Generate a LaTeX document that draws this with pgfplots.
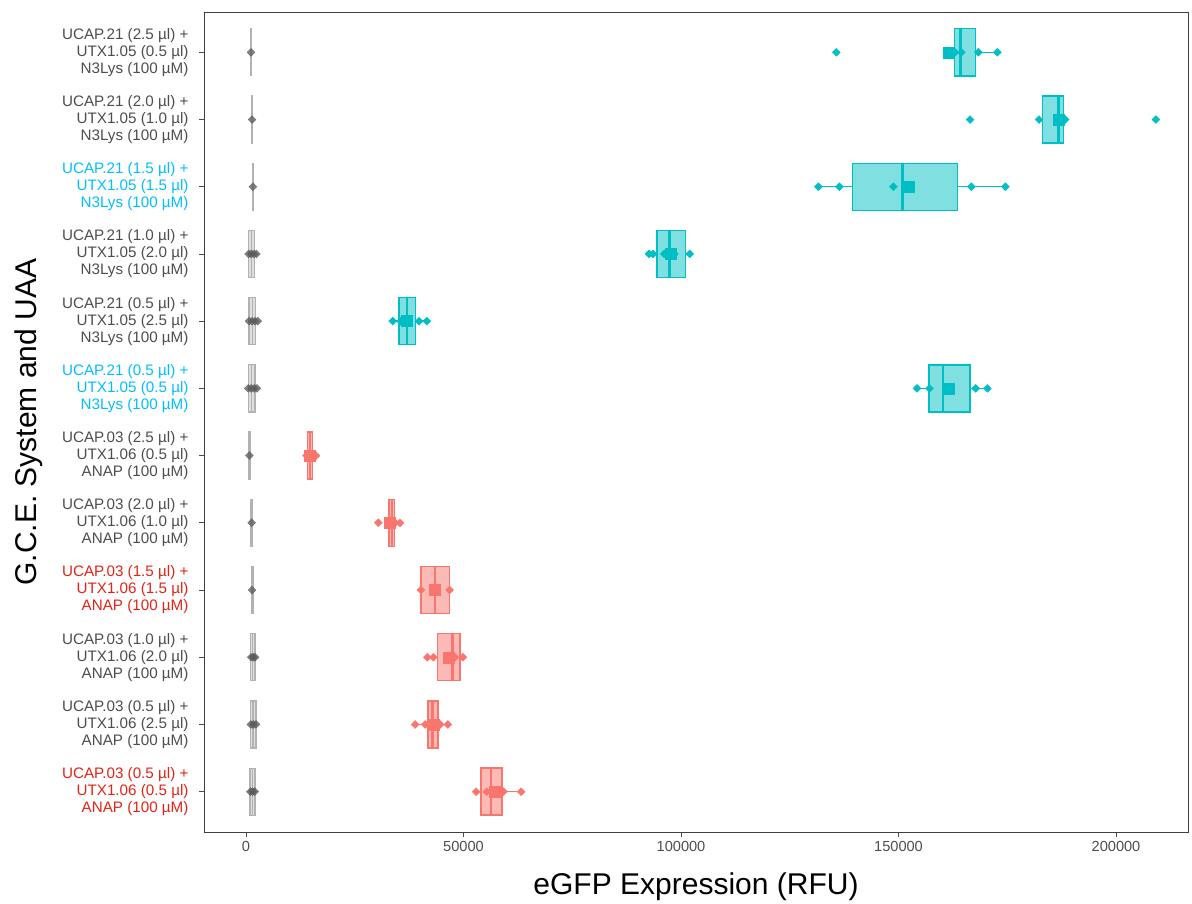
\documentclass[border=0pt]{standalone}
\usepackage{pgfplots}
\pgfplotsset{compat=1.18}
\usepgfplotslibrary{statistics}
\usepackage{fontspec}
\setmainfont{Liberation Sans}
\definecolor{tealc}{HTML}{00BFC4}
\definecolor{salm}{HTML}{F8766D}
\definecolor{labgrey}{HTML}{4D4D4D}
\definecolor{hlblue}{HTML}{00BFFF}
\definecolor{hlred}{HTML}{E32314}
\definecolor{gpt}{HTML}{5A5A5A}
\newcommand{\Lb}[4]{\textcolor{#1}{#2}\\\textcolor{#1}{#3}\\\textcolor{#1}{#4}}
% #1 colour, #2 position, #3 lower whisker, #4 Q1, #5 median, #6 Q3, #7 upper whisker
\newcommand{\bx}[7]{\addplot[boxplot prepared={draw position=#2, lower whisker=#3, lower quartile=#4, median=#5, upper quartile=#6, upper whisker=#7, box extend=0.7, whisker extend=0}, draw=#1, fill=#1!50, line width=1.4pt, solid, mark=none, boxplot/every median/.style={line width=2.4pt}] coordinates {};}
\newcommand{\gx}[6]{\addplot[boxplot prepared={draw position=#1, lower whisker=#2, lower quartile=#3, median=#4, upper quartile=#5, upper whisker=#6, box extend=0.7, whisker extend=0}, draw=gray!60, fill=gray!25, line width=1.2pt, solid, mark=none] coordinates {};}
\begin{document}
\begin{tikzpicture}
\useasboundingbox (0pt,0pt) rectangle (1192pt,904pt);
\begin{axis}[at={(204pt,72pt)}, anchor=south west, scale only axis, width=984pt, height=820pt,
 xmin=-9660, xmax=216550, ymin=0.4, ymax=12.6,
 axis line style={draw=black!75, line width=0.8pt},
 xtick={0,50000,100000,150000,200000}, xticklabels={0,50000,100000,150000,200000}, scaled x ticks=false,
 ytick={1,...,12},
 yticklabels={
 {\Lb{hlred}{UCAP.03 (0.5 µl) +}{UTX1.06 (0.5 µl)}{ANAP (100 µM)}},
 {\Lb{labgrey}{UCAP.03 (0.5 µl) +}{UTX1.06 (2.5 µl)}{ANAP (100 µM)}},
 {\Lb{labgrey}{UCAP.03 (1.0 µl) +}{UTX1.06 (2.0 µl)}{ANAP (100 µM)}},
 {\Lb{hlred}{UCAP.03 (1.5 µl) +}{UTX1.06 (1.5 µl)}{ANAP (100 µM)}},
 {\Lb{labgrey}{UCAP.03 (2.0 µl) +}{UTX1.06 (1.0 µl)}{ANAP (100 µM)}},
 {\Lb{labgrey}{UCAP.03 (2.5 µl) +}{UTX1.06 (0.5 µl)}{ANAP (100 µM)}},
 {\Lb{hlblue}{UCAP.21 (0.5 µl) +}{UTX1.05 (0.5 µl)}{N3Lys (100 µM)}},
 {\Lb{labgrey}{UCAP.21 (0.5 µl) +}{UTX1.05 (2.5 µl)}{N3Lys (100 µM)}},
 {\Lb{labgrey}{UCAP.21 (1.0 µl) +}{UTX1.05 (2.0 µl)}{N3Lys (100 µM)}},
 {\Lb{hlblue}{UCAP.21 (1.5 µl) +}{UTX1.05 (1.5 µl)}{N3Lys (100 µM)}},
 {\Lb{labgrey}{UCAP.21 (2.0 µl) +}{UTX1.05 (1.0 µl)}{N3Lys (100 µM)}},
 {\Lb{labgrey}{UCAP.21 (2.5 µl) +}{UTX1.05 (0.5 µl)}{N3Lys (100 µM)}}},
 tick align=outside, major tick length=5pt, xtick pos=left, ytick pos=left,
 tick style={draw=black!70, line width=0.8pt},
 xticklabel style={font=\fontsize{14.6}{17}\selectfont, text=labgrey, yshift=-1pt},
 yticklabel style={font=\fontsize{15.2}{17}\selectfont, text=labgrey, align=right, xshift=-7pt},
 xlabel={eGFP Expression (RFU)}, ylabel={G.C.E. System and UAA},
 xlabel style={font=\fontsize{30}{34}\selectfont, at={(axis description cs:0.5,-0.067)}, anchor=center},
 ylabel style={font=\fontsize{30}{34}\selectfont, at={(axis description cs:-0.178,0.5)}, anchor=center},
 clip=false]
% grey control boxes
\gx{12}{950}{950}{1150}{1350}{1350}
\gx{11}{1200}{1200}{1380}{1550}{1550}
\gx{10}{1400}{1400}{1600}{1800}{1800}
\gx{9}{530}{530}{1220}{1900}{1900}
\gx{8}{690}{690}{1450}{2230}{2230}
\gx{7}{530}{530}{1300}{2070}{2070}
\gx{6}{600}{600}{770}{950}{950}
\gx{5}{1100}{1100}{1300}{1500}{1500}
\gx{4}{1200}{1200}{1380}{1600}{1600}
\gx{3}{1080}{1080}{1540}{2070}{2070}
\gx{2}{1080}{1080}{1600}{2300}{2300}
\gx{1}{920}{920}{1500}{2070}{2070}
% teal boxes
\bx{tealc}{12}{162840}{162840}{164220}{167670}{172730}
\bx{tealc}{11}{182300}{183150}{186800}{187960}{188300}
\bx{tealc}{10}{131560}{139380}{150880}{163530}{174570}
\bx{tealc}{9}{92640}{94440}{97330}{101060}{102000}
\bx{tealc}{8}{33740}{35190}{37000}{38940}{41560}
\bx{tealc}{7}{154240}{156980}{160240}{166470}{170430}
% salmon boxes
\bx{salm}{6}{13900}{14100}{14650}{15250}{16100}
\bx{salm}{5}{32900}{32900}{33500}{34200}{35400}
\bx{salm}{4}{40200}{40200}{43470}{46800}{46800}
\bx{salm}{3}{41700}{44000}{47450}{49220}{49840}
\bx{salm}{2}{38870}{41790}{42860}{44090}{46390}
\bx{salm}{1}{52900}{53980}{56280}{58810}{63250}
% grey points
\addplot[only marks, mark=square*, mark options={rotate=45}, mark size=2.8, color=gpt, opacity=0.75] coordinates {
 (1150,12) (1380,11) (1600,10)
 (600,9) (1200,9) (1800,9) (2400,9)
 (700,8) (1400,8) (2100,8) (2700,8)
 (500,7) (1200,7) (1900,7) (2500,7)
 (770,6) (1300,5) (1380,4)
 (1200,3) (1700,3) (2100,3)
 (1100,2) (1700,2) (2300,2)
 (1000,1) (1500,1) (2000,1)};
% teal points
\addplot[only marks, mark=square*, mark options={rotate=45}, mark size=2.8, color=tealc] coordinates {
 (135700,12) (163000,12) (164450,12) (168360,12) (172730,12)
 (166440,11) (182300,11) (186500,11) (187500,11) (188300,11) (209180,11)
 (131560,10) (136390,10) (148810,10) (152500,10) (166750,10) (174570,10)
 (92640,9) (93570,9) (96140,9) (97800,9) (98500,9) (102000,9)
 (33740,8) (35500,8) (37000,8) (39790,8) (41560,8)
 (154240,7) (157140,7) (161000,7) (167740,7) (170430,7)};
% salmon points
\addplot[only marks, mark=square*, mark options={rotate=45}, mark size=2.8, color=salm] coordinates {
 (13900,6) (14600,6) (15200,6) (16100,6)
 (30430,5) (33000,5) (33600,5) (34300,5) (35400,5)
 (40200,4) (46800,4)
 (41700,3) (43080,3) (46500,3) (48000,3) (49840,3)
 (38870,2) (41170,2) (42700,2) (44620,2) (46390,2)
 (52900,1) (55360,1) (57500,1) (59180,1) (63250,1)};
% means
\addplot[only marks, mark=square*, mark size=5.5, color=tealc] coordinates {
 (161600,12) (186760,11) (152260,10) (97700,9) (36960,8) (161460,7)};
\addplot[only marks, mark=square*, mark size=5.5, color=salm] coordinates {
 (14720,6) (33120,5) (43470,4) (46530,3) (43080,2) (57110,1)};
\end{axis}
\end{tikzpicture}
\end{document}
